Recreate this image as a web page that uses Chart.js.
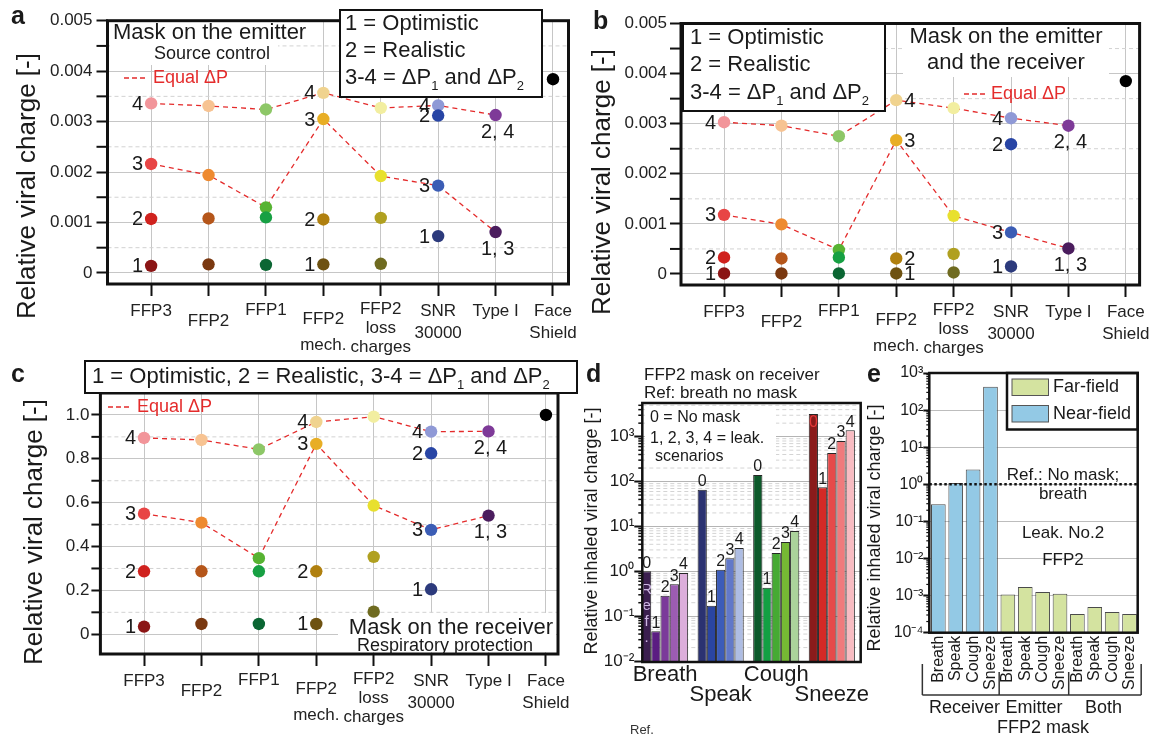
<!DOCTYPE html>
<html>
<head>
<meta charset="utf-8">
<script src="https://cdn.jsdelivr.net/npm/chart.js@4"></script>
<style>
  body { margin: 0; background: #fff; }
  #wrap { position: relative; width: 1157px; height: 739px; overflow: hidden; background: #fff; }
  #wrap canvas { position: absolute; left: 0; top: 0; }
</style>
</head>
<body>
<div id="wrap">
  <canvas id="ca" width="1157" height="739"></canvas>
  <canvas id="cb" width="1157" height="739"></canvas>
  <canvas id="cc" width="1157" height="739"></canvas>
  <canvas id="cd" width="1157" height="739"></canvas>
  <canvas id="ce" width="1157" height="739"></canvas>
</div>
<script>
const FONT = '"Liberation Sans", Arial, Helvetica, sans-serif'
const W = 1157, H = 739
const YW = 60

// masks (x categories of a, b, c)
const masks = ['FFP3', 'FFP2', 'FFP1', 'FFP2 mech. charges', 'FFP2 loss charges', 'SNR 30000', 'Type I', 'Face Shield']
const maskTickLines = [['FFP3'], ['', 'FFP2'], ['FFP1'], ['', 'FFP2', '', 'mech.'], ['FFP2', 'loss', 'charges'], ['SNR', '30000'], ['Type I'], ['Face', 'Shield']]
const maskTickLineH = [22, 14, 20, 13, 19, 22, 22, 22]
const scenarioNames = ['1', '2', '3', '4']
const typeICombined = ['1, 3', '2, 4']
const scenarioKey = ['1 = Optimistic', '2 = Realistic']

// a: mask on the emitter
const emitOpt  = [0.00014, 0.00017, 0.00016, 0.00017, 0.00018, 0.00073, null, null]
const emitReal = [0.00107, 0.00108, 0.00110, 0.00106, 0.00109, 0.00312, null, null]
const emitDP1  = [0.00216, 0.00194, 0.00130, 0.00305, 0.00192, 0.00173, 0.00081, null]
const emitDP2  = [0.00336, 0.00331, 0.00324, 0.00357, 0.00327, 0.00332, 0.00313, null]
const emitFace = 0.00384

// b: mask on the emitter and the receiver
const bothOpt  = [0.00001, 0.00001, 0.00001, 0.00001, 0.00003, 0.00015, null, null]
const bothReal = [0.00033, 0.00031, 0.00033, 0.00031, 0.00040, 0.00259, null, null]
const bothDP1  = [0.00118, 0.00099, 0.00048, 0.00267, 0.00116, 0.00083, 0.00051, null]
const bothDP2  = [0.00303, 0.00296, 0.00275, 0.00347, 0.00331, 0.00311, 0.00296, null]
const bothFace = 0.00385

// c: mask on the receiver
const recvOpt  = [0.035, 0.047, 0.047, 0.047, 0.103, 0.205, null, null]
const recvReal = [0.287, 0.287, 0.287, 0.287, 0.353, 0.825, null, null]
const recvDP1  = [0.550, 0.509, 0.347, 0.868, 0.587, 0.476, 0.541, null]
const recvDP2  = [0.895, 0.886, 0.843, 0.968, 0.992, 0.924, 0.925, null]
const recvFace = 1.0

const yTicksAB = [0, 0.001, 0.002, 0.003, 0.004, 0.005]
const yLabelsAB = ['0', '0.001', '0.002', '0.003', '0.004', '0.005']
const yTicksC = [0, 0.2, 0.4, 0.6, 0.8, 1.0]
const yLabelsC = ['0', '0.2', '0.4', '0.6', '0.8', '1.0']

// d: FFP2 on receiver, leakage scenarios
const activities = ['Breath', 'Speak', 'Cough', 'Sneeze']
const leakScen = ['0', '1', '2', '3', '4']
const inhBreath = [1.0, 0.046, 0.287, 0.513, 0.92]
const inhSpeak  = [66, 0.172, 1.09, 1.95, 3.3]
const inhCough  = [140, 0.43, 2.56, 4.5, 7.9]
const inhSneeze = [3210, 74.5, 434, 803, 1390]
const dTickLines = [['Breath'], ['', 'Speak'], ['Cough'], ['', 'Sneeze']]
const logTicksD = [1e-2, 1e-1, 1, 10, 100, 1000]
const logLabelsD = ['10⁻²', '10⁻¹', '10⁰', '10¹', '10²', '10³']

// e: FFP2 worn by receiver / emitter / both
const wearers = ['Receiver', 'Emitter', 'Both']
const ffp2Receiver = [0.29, 1.09, 2.49, 425]
const ffp2Emitter  = [0.00107, 0.0017, 0.00126, 0.00112]
const ffp2Both     = [0.00032, 0.00049, 0.00036, 0.00032]
const refLevelE = 1
const logTicksE = [1e-4, 1e-3, 1e-2, 1e-1, 1, 10, 100, 1000]
const logLabelsE = ['10⁻⁴', '10⁻³', '10⁻²', '10⁻¹', '10⁰', '10¹', '10²', '10³']

// colours
const maskColors = [
  ['#8b1515', '#d0221e', '#e84545', '#f2959a'],
  ['#7a3810', '#b5561a', '#ee8a30', '#f7c392'],
  ['#0b6633', '#17a043', '#57b332', '#8dc767'],
  ['#6e5211', '#b0800f', '#e8ae25', '#f0d38f'],
  ['#6f6b20', '#b0a020', '#e8e02e', '#f2eea0'],
  ['#2c3a7c', '#2845a5', '#3b5db5', '#8f99d6'],
  ['#4b1d5e', '#7e3a98', '#4b1d5e', '#7e3a98'],
  ['#000', '#000', '#000', '#000']
]
const actColors = [
  ['#3b1f4f', '#5b1d82', '#7b3a9a', '#9c5cb2', '#dcaedb'],
  ['#2b3271', '#2a45a2', '#3c5cb9', '#6279c9', '#aebde3'],
  ['#0d5a2b', '#12a043', '#46aa33', '#76b934', '#abd39b'],
  ['#8a1b1b', '#d42a26', '#e64a4a', '#f07a7c', '#f8bcc2']
]
const nearCol = '#93c9e5', farCol = '#d4e3a0'
const RED = '#e42b2b'

// ---------- helpers
function pad(g, xh) {
  return {left: g.L - YW, top: g.T, right: W - g.R, bottom: H - g.B - xh}
}
function line(ctx, x1, y1, x2, y2) {
  ctx.beginPath(); ctx.moveTo(x1, y1); ctx.lineTo(x2, y2); ctx.stroke()
}
function txt(ctx, s, x, y, size, o) {
  o = o || {}
  ctx.save()
  ctx.font = (o.bold ? 'bold ' : '') + size + 'px ' + FONT
  ctx.fillStyle = o.color || '#1a1a1a'
  ctx.textAlign = o.align || 'left'
  ctx.textBaseline = o.base || 'middle'
  if (o.rot) { ctx.translate(x, y); ctx.rotate(o.rot); ctx.fillText(s, 0, 0) }
  else ctx.fillText(s, x, y)
  ctx.restore()
}
// parts starting with "_" are subscripts
function rich(ctx, parts, x, y, size) {
  ctx.save()
  ctx.fillStyle = '#1a1a1a'; ctx.textBaseline = 'middle'; ctx.textAlign = 'left'
  parts.forEach(p => {
    const sub = p[0] === '_'
    const s = sub ? p.slice(1) : p
    ctx.font = (sub ? Math.round(size * 0.6) : size) + 'px ' + FONT
    ctx.fillText(s, x, sub ? y + size * 0.38 : y)
    x += ctx.measureText(s).width
  })
  ctx.restore()
}
const dpParts = ['3-4 = ΔP', '_1', ' and ΔP', '_2']

function whiteBox(ctx, x1, y1, x2, y2, border) {
  ctx.save()
  ctx.fillStyle = '#fff'
  ctx.fillRect(x1, y1, x2 - x1, y2 - y1)
  if (border) { ctx.strokeStyle = '#111'; ctx.lineWidth = border; ctx.strokeRect(x1, y1, x2 - x1, y2 - y1) }
  ctx.restore()
}
function frame(chart, lw) {
  const {ctx, chartArea: a} = chart
  ctx.save(); ctx.strokeStyle = '#111'; ctx.lineWidth = lw
  ctx.strokeRect(a.left, a.top, a.right - a.left, a.bottom - a.top)
  ctx.restore()
}
function minorY(chart, vals, len, tw, dashCol) {
  const {ctx, chartArea: a} = chart
  const y = chart.scales.y
  ctx.save()
  vals.forEach(v => {
    const py = y.getPixelForValue(v)
    if (dashCol) {
      ctx.strokeStyle = dashCol; ctx.lineWidth = 1; ctx.setLineDash([4, 3])
      line(ctx, a.left, py, a.right, py)
    }
    ctx.setLineDash([]); ctx.strokeStyle = '#111'; ctx.lineWidth = tw
    line(ctx, a.left - len, py, a.left, py)
  })
  ctx.restore()
}
function logMinors(majors, min, max) {
  const out = []
  majors.concat([majors[0] / 10]).forEach(d => {
    for (let m = 2; m <= 9; m++) { const v = d * m; if (v > min && v < max) out.push(v) }
  })
  return out
}
function equalDP(ctx, x1, x2, y) {
  ctx.save(); ctx.strokeStyle = RED; ctx.lineWidth = 1.3; ctx.setLineDash([5, 3])
  line(ctx, x1, y, x2, y); ctx.restore()
  txt(ctx, 'Equal ΔP', x2 + 5, y, 18, {color: RED})
}
function pointLabels(chart, sides) {
  const ctx = chart.ctx
  ctx.save()
  ctx.font = '20px ' + FONT
  ctx.fillStyle = '#1a1a1a'
  for (let k = 0; k < 4; k++) {
    const meta = chart.getDatasetMeta(k)
    chart.data.datasets[k].data.forEach((d, i) => {
      const side = sides[i]
      if (!side || d.y == null) return
      const p = meta.data[i]
      const s = i === 6 ? typeICombined[k - 2] : scenarioNames[k]
      if (side === 'L') { ctx.textAlign = 'right'; ctx.textBaseline = 'middle'; ctx.fillText(s, p.x - 8, p.y + 1) }
      else if (side === 'R') { ctx.textAlign = 'left'; ctx.textBaseline = 'middle'; ctx.fillText(s, p.x + 8, p.y + 1) }
      else { ctx.textAlign = 'center'; ctx.textBaseline = 'top'; ctx.fillText(s, p.x + 2, p.y + 7) }
    })
  }
  ctx.restore()
}

// ---------- panels a, b, c
const XH_MASK = 90
function makeMaskChart(id, geo, series, face, sides, yT, yL, deco) {
  const ds = series.map((vals, k) => ({
    label: scenarioNames[k],
    data: vals.map((v, i) => ({x: i, y: v})),
    showLine: k >= 2,
    borderColor: RED,
    borderDash: [5, 4],
    borderWidth: 1.3,
    tension: 0,
    pointBackgroundColor: vals.map((v, i) => maskColors[i][k]),
    pointRadius: 6.2,
    pointHoverRadius: 6.2,
    pointBorderWidth: 0
  }))
  ds.push({label: masks[7], data: [{x: 7, y: face}], showLine: false,
    pointBackgroundColor: '#000', pointRadius: 6.2, pointBorderWidth: 0})
  const minor = yT.slice(1).map((v, i) => (v + yT[i]) / 2)
  return new Chart(document.getElementById(id), {
    type: 'line',
    data: {datasets: ds},
    options: {
      responsive: false, animation: false, devicePixelRatio: 1, events: [],
      layout: {padding: pad(geo, XH_MASK)},
      plugins: {legend: {display: false}, tooltip: {enabled: false}},
      scales: {
        x: {
          type: 'linear', min: geo.xMin, max: geo.xMax, offset: false,
          afterBuildTicks: s => { s.ticks = masks.map((m, i) => ({value: i})) },
          afterFit: s => { s.height = XH_MASK },
          grid: {color: '#c6c6c6', tickColor: '#111', tickWidth: 2, tickLength: 12},
          border: {display: false},
          ticks: {
            autoSkip: false, maxRotation: 0, padding: 4, color: '#222',
            callback: (v, i) => maskTickLines[i],
            font: c => ({family: FONT, size: 17, lineHeight: (maskTickLineH[c.index] || 22) + 'px'})
          }
        },
        y: {
          min: geo.yMin, max: geo.yMax,
          afterBuildTicks: s => { s.ticks = yT.map(v => ({value: v})) },
          afterFit: s => { s.width = YW },
          grid: {color: '#c6c6c6', tickColor: '#111', tickWidth: 2, tickLength: geo.tl},
          border: {display: false},
          ticks: {padding: geo.tp, color: '#222', font: {family: FONT, size: 17}, callback: (v, i) => yL[i]}
        }
      }
    },
    plugins: [{
      id: 'deco',
      beforeDatasetsDraw(chart) {
        minorY(chart, minor, geo.tl, 2, '#d2d2d2')
        if (deco.before) deco.before(chart.ctx, chart)
      },
      afterDatasetsDraw(chart) {
        pointLabels(chart, sides)
        frame(chart, 3)
        deco.after(chart.ctx, chart)
      }
    }]
  })
}

makeMaskChart('ca',
  {L: 107.5, T: 20.7, R: 568.5, B: 284, xMin: -0.76, xMax: 7.27, yMin: -0.00022, yMax: 0.005, tl: 11, tp: 4},
  [emitOpt, emitReal, emitDP1, emitDP2], emitFace,
  ['L', '', '', 'L', '', 'L', 'B', ''], yTicksAB, yLabelsAB,
  {
    before(ctx) { whiteBox(ctx, 110, 22, 278, 65) },
    after(ctx) {
      txt(ctx, 'a', 11, 17, 25, {bold: true})
      txt(ctx, 'Relative viral charge [-]', 28, 186, 26, {align: 'center', rot: -Math.PI / 2})
      txt(ctx, 'Mask on the emitter', 113, 33, 22)
      txt(ctx, 'Source control', 154, 54, 18)
      equalDP(ctx, 124, 148, 78)
      whiteBox(ctx, 340, 10, 542, 97, 2)
      txt(ctx, scenarioKey[0], 345, 24, 22)
      txt(ctx, scenarioKey[1], 345, 51, 22)
      rich(ctx, dpParts, 345, 78, 22)
    }
  })

makeMaskChart('cb',
  {L: 681, T: 23.5, R: 1139.6, B: 285, xMin: -0.75, xMax: 7.24, yMin: -0.00022, yMax: 0.005, tl: 11, tp: 3},
  [bothOpt, bothReal, bothDP1, bothDP2], bothFace,
  ['L', '', '', 'R', '', 'L', 'B', ''], yTicksAB, yLabelsAB,
  {
    before(ctx) { whiteBox(ctx, 903, 25, 1109, 77) },
    after(ctx) {
      txt(ctx, 'b', 593, 22, 25, {bold: true})
      txt(ctx, 'Relative viral charge [-]', 603, 182, 26, {align: 'center', rot: -Math.PI / 2})
      whiteBox(ctx, 683, 24, 885, 111, 2)
      txt(ctx, scenarioKey[0], 690, 38, 22)
      txt(ctx, scenarioKey[1], 690, 65, 22)
      rich(ctx, dpParts, 690, 93, 22)
      txt(ctx, 'Mask on the emitter', 1006, 37, 22, {align: 'center'})
      txt(ctx, 'and the receiver', 1006, 63, 22, {align: 'center'})
      equalDP(ctx, 964, 986, 94)
    }
  })

makeMaskChart('cc',
  {L: 100.4, T: 393, R: 558, B: 654, xMin: -0.76, xMax: 7.21, yMin: -0.09, yMax: 1.1, tl: 9, tp: 2},
  [recvOpt, recvReal, recvDP1, recvDP2], recvFace,
  ['L', '', '', 'L', '', 'L', 'B', ''], yTicksC, yLabelsC,
  {
    before(ctx) { whiteBox(ctx, 338, 613, 556, 652) },
    after(ctx) {
      txt(ctx, 'c', 11, 375, 25, {bold: true})
      txt(ctx, 'Relative viral charge [-]', 35, 532, 26, {align: 'center', rot: -Math.PI / 2})
      whiteBox(ctx, 85, 361, 577, 393, 2)
      rich(ctx, [scenarioKey[0] + ', ' + scenarioKey[1] + ', '].concat(dpParts), 92, 377, 22)
      equalDP(ctx, 108, 132, 407)
      txt(ctx, 'Mask on the receiver', 553, 628, 22, {align: 'right'})
      txt(ctx, 'Respiratory protection', 445, 646, 18, {align: 'center'})
    }
  })

// ---------- panel d
const XH_D = 60
const geoD = {L: 642.3, T: 403, R: 860.7, B: 662}
const inhSeries = [inhBreath, inhSpeak, inhCough, inhSneeze]
const minorD = logMinors(logTicksD, 0.00955, 5623)
new Chart(document.getElementById('cd'), {
  type: 'bar',
  data: {
    datasets: leakScen.map((s, k) => ({
      label: s,
      data: inhSeries.map((vals, i) => ({x: i, y: vals[k]})),
      backgroundColor: actColors.map(p => p[k]),
      borderColor: '#262626',
      borderWidth: 1,
      categoryPercentage: 0.83,
      barPercentage: 1
    }))
  },
  options: {
    responsive: false, animation: false, devicePixelRatio: 1, events: [],
    layout: {padding: pad(geoD, XH_D)},
    plugins: {legend: {display: false}, tooltip: {enabled: false}},
    scales: {
      x: {
        type: 'linear', min: -0.41, max: 3.52, offset: false,
        afterBuildTicks: s => { s.ticks = activities.map((a, i) => ({value: i})) },
        afterFit: s => { s.height = XH_D },
        grid: {display: false, drawTicks: false, offset: false},
        border: {display: false},
        ticks: {autoSkip: false, maxRotation: 0, padding: 3, color: '#1a1a1a',
          callback: (v, i) => dTickLines[i],
          font: {family: FONT, size: 22, lineHeight: '20px'}}
      },
      y: {
        type: 'logarithmic', min: 0.00955, max: 5623,
        afterBuildTicks: s => { s.ticks = logTicksD.map(v => ({value: v})) },
        afterFit: s => { s.width = YW },
        grid: {color: '#b4b4b4', tickColor: '#111', tickWidth: 2, tickLength: 8},
        border: {display: false},
        ticks: {padding: 0, color: '#1a1a1a', font: {family: FONT, size: 17}, callback: (v, i) => logLabelsD[i]}
      }
    }
  },
  plugins: [{
    id: 'decoD',
    beforeDatasetsDraw(chart) {
      const ctx = chart.ctx
      minorY(chart, minorD, 4, 1.5, '#d4d4d4')
      whiteBox(ctx, 645, 406, 776, 467)
      txt(ctx, '0 = No mask', 650, 418, 16)
      txt(ctx, '1, 2, 3, 4 = leak.', 650, 439, 16)
      txt(ctx, 'scenarios', 655, 457, 16)
    },
    afterDatasetsDraw(chart) {
      const ctx = chart.ctx, a = chart.chartArea
      ctx.save()
      ctx.font = '16px ' + FONT
      ctx.textAlign = 'center'
      leakScen.forEach((s, k) => {
        chart.getDatasetMeta(k).data.forEach(b => {
          if (b.y - 16 < a.top) { ctx.fillStyle = '#e43a3a'; ctx.textBaseline = 'top'; ctx.fillText(s, b.x, b.y + 1) }
          else { ctx.fillStyle = '#1a1a1a'; ctx.textBaseline = 'bottom'; ctx.fillText(s, b.x, b.y) }
        })
      })
      // "Ref." written down the reference bar
      const ref = chart.getDatasetMeta(0).data[0]
      ctx.fillStyle = '#cdb6e3'
      ctx.font = '15px ' + FONT
      ctx.textBaseline = 'alphabetic'
      'Ref.'.split('').forEach((ch, j) => ctx.fillText(ch, ref.x, ref.y + 23 + j * 16))
      ctx.restore()
      frame(chart, 2.5)
      txt(ctx, 'd', 586, 375, 25, {bold: true})
      txt(ctx, 'FFP2 mask on receiver', 644, 375, 17)
      txt(ctx, 'Ref: breath no mask', 644, 393, 17)
      txt(ctx, 'Relative inhaled viral charge [-]', 592, 531, 18, {align: 'center', rot: -Math.PI / 2})
      txt(ctx, 'Ref.', 630, 730, 13, {color: '#333'})
    }
  }]
})

// ---------- panel e
const XH_E = 60
const geoE = {L: 929.3, T: 373, R: 1137.7, B: 632.7}
const eTickLabels = wearers.flatMap(() => activities)
const minorE = logMinors(logTicksE, 1e-4, 1e3)
new Chart(document.getElementById('ce'), {
  type: 'bar',
  data: {
    datasets: [
      {label: 'Near-field', data: ffp2Receiver.map((v, i) => ({x: i, y: v})),
        backgroundColor: nearCol, borderColor: '#4a4a4a', borderWidth: 1,
        grouped: false, categoryPercentage: 0.845, barPercentage: 1},
      {label: 'Far-field', data: ffp2Emitter.concat(ffp2Both).map((v, i) => ({x: i + 4, y: v})),
        backgroundColor: farCol, borderColor: '#4a4a4a', borderWidth: 1,
        grouped: false, categoryPercentage: 0.845, barPercentage: 1}
    ]
  },
  options: {
    responsive: false, animation: false, devicePixelRatio: 1, events: [],
    layout: {padding: pad(geoE, XH_E)},
    plugins: {legend: {display: false}, tooltip: {enabled: false}},
    scales: {
      x: {
        type: 'linear', min: -0.52, max: 11.47, offset: false,
        afterBuildTicks: s => { s.ticks = eTickLabels.map((a, i) => ({value: i})) },
        afterFit: s => { s.height = XH_E },
        grid: {display: false, drawTicks: false, offset: false},
        border: {display: false},
        ticks: {autoSkip: false, minRotation: 90, maxRotation: 90, padding: 3, color: '#1a1a1a',
          callback: (v, i) => eTickLabels[i], font: {family: FONT, size: 16}}
      },
      y: {
        type: 'logarithmic', min: 1e-4, max: 1e3,
        afterBuildTicks: s => { s.ticks = logTicksE.map(v => ({value: v})) },
        afterFit: s => { s.width = YW },
        grid: {color: '#bdbdbd', tickColor: '#111', tickWidth: 2, tickLength: 6},
        border: {display: false},
        ticks: {padding: 0, color: '#1a1a1a', font: {family: FONT, size: 16}, callback: (v, i) => logLabelsE[i]}
      }
    }
  },
  plugins: [{
    id: 'decoE',
    beforeDatasetsDraw(chart) { minorY(chart, minorE, 3, 1.2, null) },
    afterDatasetsDraw(chart) {
      const ctx = chart.ctx, a = chart.chartArea, x = chart.scales.x, y = chart.scales.y
      // reference level
      const py = y.getPixelForValue(refLevelE)
      ctx.save(); ctx.strokeStyle = '#111'; ctx.lineWidth = 2.5; ctx.setLineDash([2.5, 2.5])
      line(ctx, a.left, py, a.right, py); ctx.restore()
      txt(ctx, 'Ref.: No mask;', 1063, 475, 17, {align: 'center'})
      txt(ctx, 'breath', 1063, 494, 17, {align: 'center'})
      txt(ctx, 'Leak. No.2', 1063, 533, 17, {align: 'center'})
      txt(ctx, 'FFP2', 1063, 560, 17, {align: 'center'})
      // legend
      whiteBox(ctx, 1007, 373, a.right, 429.5, 2.5)
      const ds = chart.data.datasets
      ;[1, 0].forEach((k, j) => {
        const sy = 379 + j * 26.5
        ctx.save(); ctx.fillStyle = ds[k].backgroundColor; ctx.strokeStyle = '#555'; ctx.lineWidth = 1
        ctx.fillRect(1012, sy, 36.5, 16.5); ctx.strokeRect(1012, sy, 36.5, 16.5); ctx.restore()
        txt(ctx, ds[k].label, 1053, sy + 8.5, 18)
      })
      frame(chart, 2.5)
      // grouping brackets under the tick labels
      ctx.save(); ctx.strokeStyle = '#333'; ctx.lineWidth = 1.5
      const xl = x.getPixelForValue(-0.92), xr = x.getPixelForValue(11.67)
      line(ctx, xl, 664, xl, 695); line(ctx, xr, 664, xr, 695)
      line(ctx, xl, 695, xr, 695)
      ;[3.5, 7.5].forEach(v => { const px = x.getPixelForValue(v); line(ctx, px, 672, px, 695) })
      ctx.restore()
      wearers.forEach((w, g) => txt(ctx, w, x.getPixelForValue(g * 4 + 1.5), 708, 18, {align: 'center'}))
      txt(ctx, 'FFP2 mask', 1043, 728, 18, {align: 'center'})
      txt(ctx, 'e', 867, 375, 25, {bold: true})
      txt(ctx, 'Relative inhaled viral charge [-]', 875, 528, 18, {align: 'center', rot: -Math.PI / 2})
    }
  }]
})
</script>
</body>
</html>
